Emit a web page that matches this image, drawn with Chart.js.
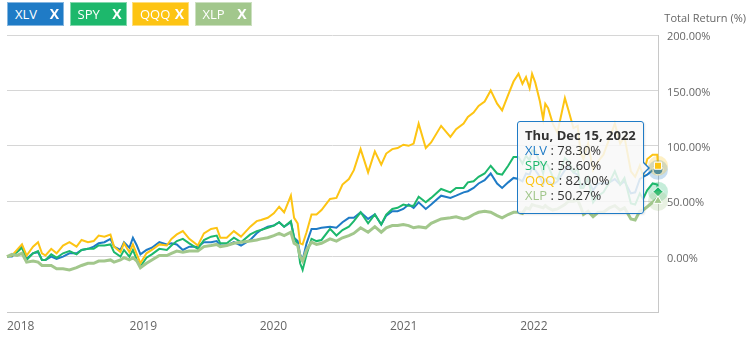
<!DOCTYPE html>
<html>
<head>
<meta charset="utf-8">
<title>Total Return</title>
<script src="https://cdn.jsdelivr.net/npm/chart.js@4.4.1/dist/chart.umd.min.js"></script>
<style>
  html, body { margin: 0; padding: 0; background: #fff; }
  #wrap { position: relative; width: 752px; height: 340px; font-family: "Open Sans", sans-serif; overflow: hidden; }
  #chart { position: absolute; left: 0; top: 0; }
  .btn { position: absolute; top: 2px; width: 57px; height: 24px; line-height: 22px; box-sizing: border-box;
         border: 1px solid rgba(255,255,255,0.45); color: #fff; font-size: 13px; padding-left: 7px; }
  .btn b { position: absolute; right: 4px; top: 0; font-size: 14px; }
  #ytitle { position: absolute; right: 6px; top: 10px; font-size: 11px; color: #666; }
  #tip { position: absolute; display: none; width: 127px; box-sizing: border-box; padding: 6px 7px 10px 7px;
         background: rgba(248,248,248,0.86); border: 1px solid #1f7bc6; border-radius: 3px;
         box-shadow: 1px 1px 2px rgba(0,0,0,0.10); font-size: 13px; line-height: 15px; color: #333; white-space: nowrap; }
  #tip .t { font-weight: bold; }
  #tip::before { content: ""; position: absolute; right: -7px; top: 50%; margin-top: -6px;
         border-top: 6px solid transparent; border-bottom: 6px solid transparent; border-left: 6px solid #1f7bc6; }
  #tip::after { content: ""; position: absolute; right: -5px; top: 50%; margin-top: -5px;
         border-top: 5px solid transparent; border-bottom: 5px solid transparent; border-left: 5px solid #f8f8f8; }
</style>
</head>
<body>
<div id="wrap">
  <canvas id="chart" width="752" height="340"></canvas>
  <div id="legend"></div>
  <div id="ytitle">Total Return (%)</div>
  <div id="tip"></div>
</div>
<script>
// cumulative total return (%) since 2017-12-15
const dates = [
  "2017-12-15","2017-12-29","2018-01-12","2018-01-26","2018-02-08","2018-02-26","2018-03-12","2018-03-23",
  "2018-04-02","2018-04-18","2018-05-03","2018-05-21","2018-06-08","2018-06-28","2018-07-12","2018-07-30",
  "2018-08-15","2018-08-29","2018-09-14","2018-10-01","2018-10-11","2018-10-29","2018-11-08","2018-11-23",
  "2018-12-03","2018-12-14","2018-12-24","2019-01-10","2019-01-25","2019-02-15","2019-03-08","2019-03-21",
  "2019-04-05","2019-04-22","2019-05-10","2019-06-03","2019-06-20","2019-07-10","2019-07-26","2019-08-05",
  "2019-08-23","2019-09-12","2019-10-02","2019-10-28","2019-11-15","2019-11-27","2019-12-16","2020-01-02",
  "2020-01-17","2020-01-31","2020-02-19","2020-02-28","2020-03-09","2020-03-16","2020-03-23","2020-04-03",
  "2020-04-17","2020-05-01","2020-05-15","2020-06-08","2020-06-26","2020-07-13","2020-07-31","2020-08-14",
  "2020-09-02","2020-09-23","2020-10-12","2020-10-30","2020-11-13","2020-11-30","2020-12-15","2020-12-31",
  "2021-01-15","2021-01-29","2021-02-12","2021-03-04","2021-03-19","2021-04-16","2021-05-12","2021-05-28",
  "2021-06-18","2021-06-30","2021-07-16","2021-07-30","2021-08-16","2021-09-02","2021-09-20","2021-10-04",
  "2021-10-21","2021-11-05","2021-11-19","2021-11-30","2021-12-10","2021-12-20","2021-12-27","2022-01-05",
  "2022-01-18","2022-01-27","2022-02-02","2022-02-10","2022-02-23","2022-03-08","2022-03-29","2022-04-08",
  "2022-04-22","2022-05-04","2022-05-12","2022-05-20","2022-06-02","2022-06-16","2022-06-30","2022-07-15",
  "2022-08-01","2022-08-16","2022-08-31","2022-09-12","2022-09-30","2022-10-12","2022-10-25","2022-11-03",
  "2022-11-15","2022-11-30","2022-12-13","2022-12-15"
];
const xlv = [
  0,0,5,10,-2,3,4,-3, -3,0,-2,0,3,3,6,7, 9,12,13,16,9,6,13,8, 17,10,2,6,8,13,11,12,
  11,6,9,9,13,13,14,10, 10,13,10,15,21,24,27,28, 31,27,31,17,14,2,-3,12,
  25,25,26,27,26,31,35,35, 40,34,38,29,37,41,41,43, 47,44,49,43,47,55,53,55,
  58,59,62,66,69,75,66,62, 67,71,70,68,75,74,80,78, 72,65,70,68,65,68,78,81,
  76,74,63,65,69,60,66,66, 67,70,65,68,57,58,70,72, 74,78,80,78.3
];
const spy = [
  0,1,4,8,-3,3,5,-3, -3,2,-1,3,5,2,6,7, 7,10,10,11,4,0,6,0, 6,-3,-9,-1,2,7,6,10,
  14,16,12,7,15,18,19,12, 12,17,13,20,23,24,26,28, 31,27,32,17,11,-6,-12,2,
  16,14,15,25,19,24,27,32, 40,30,38,29,38,43,44,47, 46,46,54,49,53,61,58,62,
  62,67,68,72,75,82,75,74, 82,90,90,84,91,87,96,95, 85,75,85,82,72,70,89,86,
  76,79,62,62,71,49,55,58, 67,77,65,71,48,47,57,52, 60,66,65,58.6
];
const qqq = [
  0,1,6,11,1,9,13,3, 1,7,3,10,13,9,15,13, 14,19,18,20,9,4,12,4, 11,2,-6,3,6,11,10,16,
  20,23,16,10,21,25,26,17, 17,23,18,27,32,33,35,39, 45,40,55,35,30,12,11,22,
  38,38,42,52,53,65,70,78, 97,76,95,83,93,97,98,101, 100,102,120,98,103,118,108,115,
  120,126,130,136,140,150,138,132, 146,158,165,156,162,152,165,157, 140,124,138,134,120,112,143,132,
  116,118,94,88,102,78,86,92, 107,120,102,108,77,72,82,73, 88,92,92,82
];
const xlp = [
  0,2,1,3,-5,-4,-5,-8, -8,-8,-11,-11,-12,-10,-8,-6, -6,-4,-4,-3,-5,-3,-1,-3, -1,-4,-10,-6,-3,1,1,3,
  5,4,5,5,9,10,11,9, 10,12,13,14,15,16,17,19, 21,19,22,12,10,0,-4,6,
  13,11,12,16,14,17,19,21, 26,22,27,22,26,28,28,29, 28,26,27,26,30,34,35,36,
  34,35,38,40,41,40,37,35, 38,40,40,39,44,43,47,46, 45,44,46,44,42,43,47,50,
  50,51,45,38,41,36,40,40, 44,46,42,44,34,33,41,42, 45,49,52,50.27
];
const names = ["XLV", "SPY", "QQQ", "XLP"];
const colors = ["#1f7bc6", "#1db86c", "#fdc413", "#a2c78c"];
const markers = ["circle", "rectRot", "rect", "triangle"];
const years = [2018, 2019, 2020, 2021, 2022];

function toYear(s) {
  const d = new Date(s + "T00:00:00Z");
  const y = d.getUTCFullYear();
  return y + (d - Date.UTC(y, 0, 1)) / (Date.UTC(y + 1, 0, 1) - Date.UTC(y, 0, 1));
}
function fmtDate(s) {
  const d = new Date(s + "T00:00:00Z");
  const dn = ["Sun","Mon","Tue","Wed","Thu","Fri","Sat"][d.getUTCDay()];
  const mn = ["Jan","Feb","Mar","Apr","May","Jun","Jul","Aug","Sep","Oct","Nov","Dec"][d.getUTCMonth()];
  return dn + ", " + mn + " " + d.getUTCDate() + ", " + d.getUTCFullYear();
}

// legend buttons
const legend = document.getElementById("legend");
names.forEach(function (n, i) {
  const b = document.createElement("div");
  b.className = "btn";
  b.style.left = (7 + i * 62.5) + "px";
  b.style.background = colors[i];
  b.innerHTML = n + "<b>X</b>";
  legend.appendChild(b);
});

const last = dates.length - 1;
const series = [xlv, spy, qqq, xlp];

const yearLabels = {
  id: "yearLabels",
  afterDraw(chart) {
    const xs = chart.scales.x, ctx = chart.ctx;
    ctx.save();
    ctx.font = '12px "Open Sans"';
    ctx.fillStyle = "#666";
    ctx.textBaseline = "middle";
    years.forEach(function (y) {
      const t = String(y);
      const w = ctx.measureText(t).width;
      const left = Math.max(chart.chartArea.left, xs.getPixelForValue(y) - w / 2);
      ctx.fillText(t, left, 327);
    });
    ctx.restore();
  }
};

const halo = {
  id: "halo",
  afterDatasetsDraw(chart) {
    const ctx = chart.ctx;
    chart.data.datasets.forEach(function (ds, i) {
      const pt = chart.getDatasetMeta(i).data[last];
      ctx.save();
      ctx.globalAlpha = 0.25;
      ctx.fillStyle = ds.borderColor;
      ctx.beginPath();
      ctx.arc(pt.x, pt.y, 10, 0, Math.PI * 2);
      ctx.fill();
      ctx.restore();
      pt.draw(ctx, chart.chartArea);
    });
  }
};

function drawTip(context) {
  const tooltip = context.tooltip;
  const tip = document.getElementById("tip");
  if (!tooltip.dataPoints || !tooltip.dataPoints.length) { tip.style.display = "none"; return; }
  const pts = tooltip.dataPoints.slice().sort(function (a, b) { return a.datasetIndex - b.datasetIndex; });
  let html = '<div class="t">' + tooltip.title[0] + "</div>";
  pts.forEach(function (p) {
    html += '<div><span style="color:' + colors[p.datasetIndex] + '">' + names[p.datasetIndex] +
      "</span> : " + p.raw.y.toFixed(2) + "%</div>";
  });
  tip.innerHTML = html;
  tip.style.display = "block";
  const cx = pts[0].element.x;
  const cy = (pts[0].element.y + pts[2].element.y) / 2;
  tip.style.left = (cx - 14 - tip.offsetWidth) + "px";
  tip.style.top = (cy - tip.offsetHeight / 2) + "px";
}

const chart = new Chart(document.getElementById("chart"), {
  type: "line",
  data: {
    datasets: series.map(function (arr, i) {
      return {
        label: names[i],
        data: dates.map(function (d, k) { return { x: toYear(d), y: arr[k] }; }),
        borderColor: colors[i],
        backgroundColor: colors[i],
        borderWidth: i === 3 ? 3 : 2,
        tension: 0,
        order: 3 - i,
        clip: false,
        pointStyle: markers[i],
        pointRadius: function (c) { return c.dataIndex === last ? 5 : 0; },
        pointHoverRadius: function (c) { return c.dataIndex === last ? 5 : 0; },
        pointBorderColor: "#fff",
        pointBorderWidth: 1
      };
    })
  },
  options: {
    responsive: false,
    animation: false,
    layout: { padding: { left: 7, top: 35, right: 0, bottom: 0 } },
    interaction: { mode: "index", intersect: false },
    plugins: {
      legend: { display: false },
      tooltip: {
        enabled: false,
        external: drawTip,
        callbacks: { title: function (items) { return fmtDate(dates[items[0].dataIndex]); } }
      }
    },
    scales: {
      x: {
        type: "linear",
        min: toYear(dates[0]),
        max: toYear(dates[last]),
        grid: { display: false },
        border: { color: "#c8c8c8" },
        ticks: { display: false },
        afterFit: function (s) { s.height = 28; }
      },
      y: {
        position: "right",
        min: -50,
        max: 200,
        grid: { color: "#d6d6d6", drawTicks: false },
        border: { color: "#c8c8c8" },
        ticks: {
          stepSize: 50,
          padding: 9,
          labelOffset: 2,
          color: "#666",
          font: { family: "Open Sans", size: 11 },
          callback: function (v) { return v < 0 ? "" : v.toFixed(2) + "%"; }
        },
        afterFit: function (s) { s.width = 94; }
      }
    }
  },
  plugins: [yearLabels, halo]
});

const meta0 = chart.getDatasetMeta(0).data[last];
chart.tooltip.setActiveElements(
  series.map(function (a, i) { return { datasetIndex: i, index: last }; }),
  { x: meta0.x, y: meta0.y }
);
chart.draw();
</script>
</body>
</html>
